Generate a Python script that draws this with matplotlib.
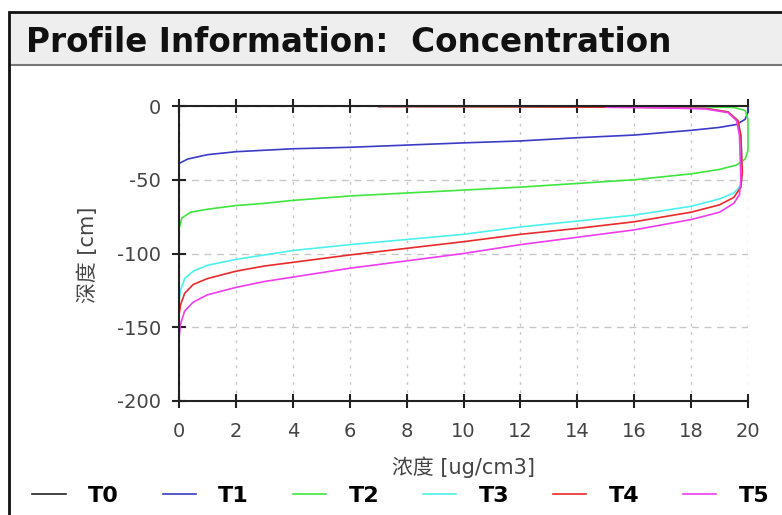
import numpy as np
import matplotlib.pyplot as plt
from matplotlib.patches import Rectangle
from matplotlib.lines import Line2D

plt.rcParams['font.family'] = ['DejaVu Sans', 'Noto Sans CJK SC']
plt.rcParams['axes.unicode_minus'] = False

# profile data: concentration [ug/cm3] vs depth [cm]
t0_conc = [0, 0]
t0_depth = [0, -200]

t1_conc = [0, 0.3, 1, 2, 3, 4, 6, 8, 10, 12, 14, 16, 18, 19, 19.6, 19.9, 20, 20]
t1_depth = [-39, -36, -33, -31, -30, -29, -28, -26.5, -25, -23.7, -21.5, -19.7, -16.5, -14.5, -12.5, -9, -4, 0]

t2_conc = [0, 0.1, 0.4, 1, 2, 3, 4, 6, 8, 10, 12, 14, 16, 18, 19, 19.6, 19.9, 20, 20, 19.9, 19.5, 18]
t2_depth = [-83, -76, -72, -70, -67.5, -66, -64, -61, -59, -57, -55, -52.5, -50, -46, -43, -40, -36, -30, -9, -3, -1, -0.5]

t3_conc = [0, 0.05, 0.2, 0.5, 1, 2, 3, 4, 6, 8, 10, 12, 14, 16, 18, 19, 19.5, 19.75, 19.8,
           19.75, 19.65, 19.3, 18.5, 16, 12, 7]
t3_depth = [-133, -125, -117, -112, -108, -104, -101, -98, -94, -90.5, -87, -82, -78, -74, -68, -63, -59, -54, -45,
            -20, -10, -4, -1.5, -0.8, -0.5, -0.3]

t4_conc = [0, 0.05, 0.2, 0.5, 1, 2, 3, 4, 6, 8, 10, 12, 14, 16, 18, 19, 19.5, 19.75, 19.8,
           19.75, 19.65, 19.3, 18.5, 16, 12, 7]
t4_depth = [-142, -135, -127, -121, -117, -112, -108.5, -106, -101, -96.5, -92, -87, -83, -78.5, -72, -67, -62, -55, -45,
            -20, -10, -4, -1.6, -0.9, -0.6, -0.4]

t5_conc = [0, 0.05, 0.2, 0.5, 1, 2, 3, 4, 6, 8, 10, 12, 14, 16, 18, 19, 19.5, 19.7, 19.75,
           19.7, 19.6, 19.3, 18.5, 17, 15]
t5_depth = [-158, -148, -139, -133, -128, -123, -119, -116, -110, -105, -100, -94, -89, -84, -77, -72, -66, -60, -50,
            -20, -10, -4.5, -2, -1.2, -0.8]

labels = ['T0', 'T1', 'T2', 'T3', 'T4', 'T5']
colors = ['#222222', '#3b3bc8', '#3ee63e', '#4cf0f0', '#e82a2a', '#ee3cee']

x_ticks = np.arange(0, 21, 2)
y_ticks = [0, -50, -100, -150, -200]

fig = plt.figure(figsize=(7.82, 5.15), dpi=100)

# outer panel frame + title bar
fig.patches.append(Rectangle((9 / 782, -0.1), 1.1, 1 - 12 / 515 + 0.1, transform=fig.transFigure,
                             facecolor='none', edgecolor='#111111', linewidth=2, zorder=3))
fig.patches.append(Rectangle((10 / 782, 1 - 65 / 515), 1.1, 52 / 515, transform=fig.transFigure,
                             facecolor='#eeeeee', edgecolor='none', zorder=-1))
fig.add_artist(Line2D([10 / 782, 1], [1 - 65 / 515] * 2, color='#777777', linewidth=1.5))
fig.text(26 / 782, 1 - 43 / 515, 'Profile Information:  Concentration', fontsize=23.5,
         fontweight='bold', color='#111111', va='center', ha='left')

ax = fig.add_axes([179 / 782, 1 - 401 / 515, 569 / 782, 295 / 515])
ax.set_facecolor('none')

series = [(t0_conc, t0_depth), (t1_conc, t1_depth), (t2_conc, t2_depth),
          (t3_conc, t3_depth), (t4_conc, t4_depth), (t5_conc, t5_depth)]
handles = []
for (c, d), lab, col in zip(series, labels, colors):
    ln, = ax.plot(c, d, color=col, linewidth=1.2, label=lab, clip_on=False)
    handles.append(ln)

ax.set_xlim(0, 20)
ax.set_ylim(-200, 0)
ax.set_xticks(x_ticks)
ax.set_yticks(y_ticks)

ax.xaxis.grid(True, color='#c8c8c8', linestyle=(0, (2, 4)), linewidth=1)
ax.yaxis.grid(True, color='#c8c8c8', linestyle=(0, (5, 4)), linewidth=1)
ax.set_axisbelow(True)

for s in ['left', 'bottom', 'top']:
    ax.spines[s].set_color('#222222')
    ax.spines[s].set_linewidth(1.5)
    ax.spines[s].set_zorder(5)
ax.spines['right'].set_visible(False)

ax.tick_params(axis='both', direction='inout', length=10, width=1.5, color='#222222',
               labelsize=14, labelcolor='#444444')
ax.tick_params(axis='x', top=True, pad=10)
ax.tick_params(axis='y', pad=8)

fig.text(463 / 782, 1 - 467 / 515, '浓度 [ug/cm3]', fontsize=15, color='#444444',
         ha='center', va='center')
fig.text(88 / 782, 1 - 255 / 515, '深度 [cm]', fontsize=15, color='#444444',
         ha='center', va='center', rotation=90)

fig.legend(handles=handles, labels=labels, loc='center', ncol=6, frameon=False,
           bbox_to_anchor=(0.03, 1 - 509 / 515, 0.965, 26 / 515), mode='expand',
           prop={'weight': 'bold', 'size': 16}, handlelength=1.5, handletextpad=1.0,
           borderaxespad=0)

fig.savefig('out.png', dpi=100)
